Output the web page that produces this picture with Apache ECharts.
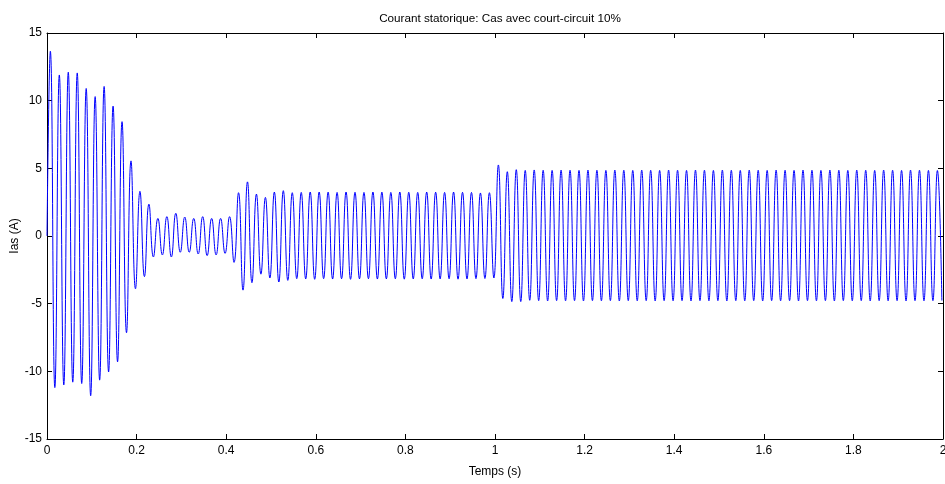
<!DOCTYPE html>
<html>
<head>
<meta charset="utf-8">
<script src="https://cdn.jsdelivr.net/npm/echarts@6/dist/echarts.min.js"></script>
<style>
html,body{margin:0;padding:0;background:#fff;}
#chart{width:945px;height:484px;}
</style>
</head>
<body>
<div id="chart"></div>
<script>
// Chart texts
const titleText = 'Courant statorique: Cas avec court-circuit 10%';
const xName = 'Temps (s)';
const yName = 'Ias (A)';

// Axis ranges / ticks
const xTicks = [0, 0.2, 0.4, 0.6, 0.8, 1, 1.2, 1.4, 1.6, 1.8, 2];
const yTicks = [-15, -10, -5, 0, 5, 10, 15];

// Time grid of the waveform extrema (50 Hz => one extremum every 10 ms)
const firstExtremumTime = 0.0075;
const halfPeriod = 0.01;
const startValue = 0; // current at t = 0

// Extrema (alternating peak, trough), per segment
// Segment 1: start-up transient, 0 - 0.2 s
const seg1Startup = [
  13.65, -11.2, 11.9, -11.0, 12.1, -10.8, 12.05, -10.9, 10.9, -11.8,
  10.3, -10.65, 11.05, -10.05, 9.6, -9.3, 8.45, -7.15, 5.55, -3.9
];
// Segment 2: low load, 0.2 - 0.42 s
const seg2LowLoad = [
  3.3, -3.0, 2.35, -1.55, 1.3, -1.4, 1.43, -1.55, 1.68, -1.2,
  1.4, -1.2, 1.3, -1.33, 1.43, -1.45, 1.3, -1.4, 1.3, -1.28,
  1.43, -1.95
];
// Segment 3: loaded, 0.42 - 1.0 s
const seg3Loaded = [
  3.2, -4.0, 4.0, -3.45, 3.1, -2.82, 2.85, -3.1, 3.25, -3.4,
  3.35, -3.28, 3.2, -3.15, 3.22, -3.17, 3.25, -3.2, 3.25, -3.15,
  3.24, -3.18, 3.22, -3.16, 3.25, -3.2, 3.23, -3.17, 3.22, -3.16,
  3.25, -3.18, 3.24, -3.17, 3.22, -3.16, 3.25, -3.19, 3.23, -3.17,
  3.22, -3.16, 3.25, -3.18, 3.24, -3.17, 3.22, -3.16, 3.25, -3.19,
  3.23, -3.17, 3.22, -3.15, 3.18, -3.14, 3.2, -3.1
];
// Segment 4: short-circuit 10%, 1.0 - 2.0 s
const seg4ShortCircuit = [
  5.25, -4.62, 4.75, -4.85, 4.9, -4.85, 4.85, -4.75, 4.88, -4.78,
  4.86, -4.8, 4.85, -4.78, 4.87, -4.79, 4.86, -4.78, 4.85, -4.8,
  4.87, -4.78, 4.86, -4.79, 4.85, -4.78, 4.87, -4.8, 4.86, -4.78,
  4.85, -4.79, 4.87, -4.78, 4.86, -4.8, 4.85, -4.78, 4.87, -4.79,
  4.86, -4.78, 4.85, -4.8, 4.87, -4.78, 4.86, -4.79, 4.85, -4.78,
  4.87, -4.8, 4.86, -4.78, 4.85, -4.79, 4.87, -4.78, 4.86, -4.8,
  4.85, -4.78, 4.87, -4.79, 4.86, -4.78, 4.85, -4.8, 4.87, -4.78,
  4.86, -4.79, 4.85, -4.78, 4.87, -4.8, 4.86, -4.78, 4.85, -4.79,
  4.87, -4.78, 4.86, -4.8, 4.85, -4.78, 4.87, -4.79, 4.86, -4.78,
  4.85, -4.8, 4.87, -4.78, 4.86, -4.79, 4.85, -4.78, 4.84, -4.77
];

const extrema = [].concat(seg1Startup, seg2LowLoad, seg3Loaded, seg4ShortCircuit);
const seriesData = [[0, startValue]].concat(
  extrema.map(function (v, i) { return [firstExtremumTime + i * halfPeriod, v]; })
);

const FONT = '"Liberation Sans", Arial, sans-serif';
const black = '#000';

function xAxisCfg(pos, showLabel) {
  return {
    type: 'value', position: pos, min: xTicks[0], max: xTicks[xTicks.length - 1],
    interval: xTicks[1] - xTicks[0],
    axisLine: { show: true, onZero: false, lineStyle: { color: black, width: 1 } },
    axisTick: { show: true, inside: true, length: 5, lineStyle: { color: black } },
    axisLabel: { show: showLabel, color: black, fontFamily: FONT, fontSize: 12, margin: 6 },
    splitLine: { show: false },
    name: showLabel ? xName : '', nameLocation: 'middle', nameGap: 27,
    nameTextStyle: { color: black, fontFamily: FONT, fontSize: 12 }
  };
}
function yAxisCfg(pos, showLabel) {
  return {
    type: 'value', position: pos, min: yTicks[0], max: yTicks[yTicks.length - 1],
    interval: yTicks[1] - yTicks[0],
    axisLine: { show: true, onZero: false, lineStyle: { color: black, width: 1 } },
    axisTick: { show: true, inside: true, length: 5, lineStyle: { color: black } },
    axisLabel: { show: showLabel, color: black, fontFamily: FONT, fontSize: 12, margin: 5 },
    splitLine: { show: false },
    name: showLabel ? yName : '', nameLocation: 'middle', nameGap: 26, nameRotate: 90,
    nameMoveOverlap: false,
    nameTextStyle: { color: black, fontFamily: FONT, fontSize: 12 }
  };
}

const chart = echarts.init(document.getElementById('chart'), null, { renderer: 'canvas' });
chart.setOption({
  backgroundColor: '#fff',
  animation: false,
  title: {
    text: titleText, left: 495, top: 8, textAlign: 'center',
    textStyle: { color: black, fontFamily: FONT, fontSize: 11.7, fontWeight: 'normal' }
  },
  grid: { left: 47, right: 2, top: 33, bottom: 45, containLabel: false, outerBoundsMode: 'none' },
  xAxis: [xAxisCfg('bottom', true), xAxisCfg('top', false)],
  yAxis: [yAxisCfg('left', true), yAxisCfg('right', false)],
  series: [{
    type: 'line', xAxisIndex: 0, yAxisIndex: 0,
    data: seriesData, showSymbol: false, smooth: 0.5,
    lineStyle: { color: '#0000ff', width: 1 },
    clip: true
  }]
});
</script>
</body>
</html>
